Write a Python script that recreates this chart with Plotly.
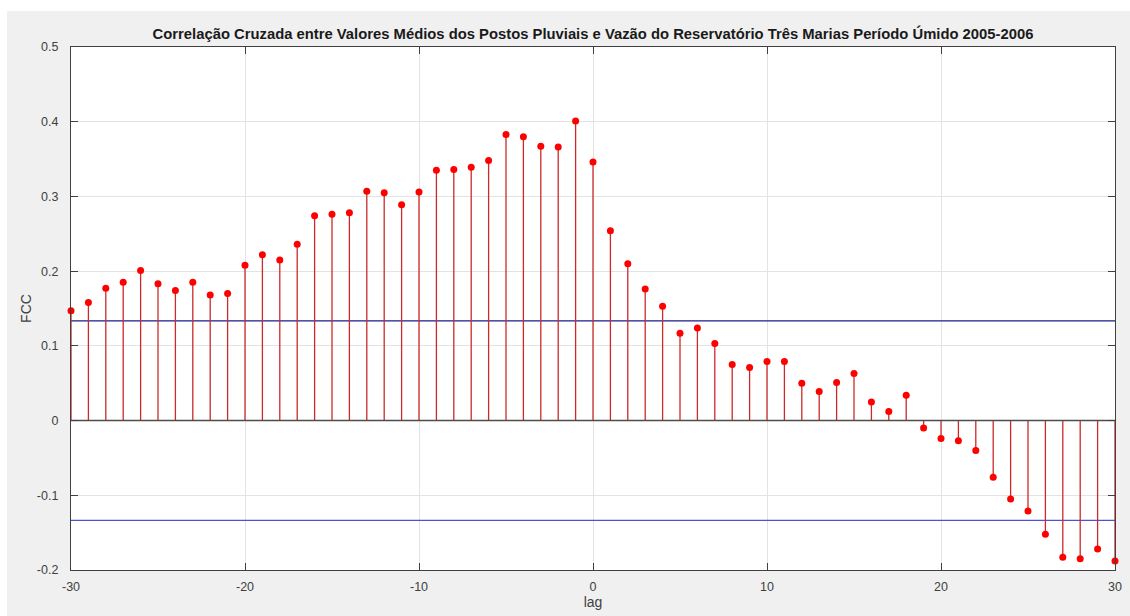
import plotly.graph_objects as go

lags = list(range(-30, 31))
fcc = [0.147, 0.158, 0.177, 0.185, 0.201, 0.183, 0.174, 0.185, 0.168, 0.170,
       0.208, 0.222, 0.215, 0.236, 0.274, 0.276, 0.278, 0.307, 0.305, 0.289,
       0.306, 0.335, 0.336, 0.339, 0.348, 0.383, 0.380, 0.367, 0.366, 0.401,
       0.346, 0.254, 0.210, 0.176, 0.153, 0.117, 0.124, 0.103, 0.075, 0.071,
       0.079, 0.079, 0.050, 0.039, 0.051, 0.063, 0.025, 0.012, 0.034, -0.010,
       -0.024, -0.027, -0.040, -0.076, -0.105, -0.121, -0.152, -0.183, -0.185, -0.172,
       -0.188]
conf_upper = 0.1335
conf_lower = -0.1335

x_tickvals = [-30, -20, -10, 0, 10, 20, 30]
x_ticktext = ["-30", "-20", "-10", "0", "10", "20", "30"]
y_tickvals = [-0.2, -0.1, 0, 0.1, 0.2, 0.3, 0.4, 0.5]
y_ticktext = ["-0.2", "-0.1", "0", "0.1", "0.2", "0.3", "0.4", "0.5"]

title_text = "Correlação Cruzada entre Valores Médios dos Postos Pluviais e Vazão do Reservatório Três Marias Período Úmido 2005-2006"

stem_x, stem_y = [], []
for lg, v in zip(lags, fcc):
    stem_x += [lg, lg, None]
    stem_y += [0, v, None]

fig = go.Figure()
fig.add_trace(go.Scatter(x=[-30, 30], y=[conf_upper, conf_upper], mode="lines",
                         line=dict(color="#1a1a8c", width=1.2), hoverinfo="skip"))
fig.add_trace(go.Scatter(x=[-30, 30], y=[conf_lower, conf_lower], mode="lines",
                         line=dict(color="#5050d4", width=1.2), hoverinfo="skip"))
fig.add_trace(go.Scatter(x=stem_x, y=stem_y, mode="lines",
                         line=dict(color="#cc2a2a", width=1.3), hoverinfo="skip"))
fig.add_trace(go.Scatter(x=[-30, 30], y=[0, 0], mode="lines",
                         line=dict(color="#4d4d4d", width=1.6), hoverinfo="skip"))
fig.add_trace(go.Scatter(x=lags, y=fcc, mode="markers",
                         marker=dict(color="#ff0000", size=7, symbol="circle",
                                     line=dict(width=0)),
                         cliponaxis=False))

W, H = 1130, 616
L, R, T, B = 71, 1115, 47, 570
pw, ph = R - L, B - T

shapes = [
    dict(type="rect", xref="paper", yref="paper", layer="below",
         x0=(0 - L) / pw - 0.01, x1=(W - L) / pw + 0.01, y0=1 + (T - 11) / ph, y1=1 + T / ph + 0.01,
         fillcolor="white", line=dict(width=0)),
    dict(type="rect", xref="paper", yref="paper", layer="below",
         x0=(0 - L) / pw - 0.01, x1=(7 - L) / pw, y0=-(H - B) / ph - 0.01, y1=1 + T / ph + 0.01,
         fillcolor="white", line=dict(width=0)),
]

FONT = "Liberation Sans, Arial, sans-serif"
axis_font = dict(family=FONT, size=12.5, color="#404040")

fig.update_layout(
    width=W, height=H,
    margin=dict(l=L, r=W - R, t=T, b=H - B, pad=0, autoexpand=False),
    paper_bgcolor="#f0f0f0",
    plot_bgcolor="white",
    showlegend=False,
    shapes=shapes,
    title=dict(text="<b>" + title_text + "</b>", x=(L + R) / 2 / W, xanchor="center",
               xref="container", y=1 - 34 / H, yref="container", yanchor="middle",
               font=dict(family=FONT, size=14.8, color="#1a1a1a")),
    xaxis=dict(range=[-30, 30], tickmode="array", tickvals=x_tickvals, ticktext=x_ticktext,
               automargin=False,
               showgrid=True, gridcolor="#e3e3e3", gridwidth=1, zeroline=False,
               showline=True, linecolor="#404040", linewidth=1.2, mirror="ticks",
               ticks="inside", ticklen=7, tickcolor="#404040",
               tickfont=axis_font, ticklabelstandoff=5,
               title=dict(text="lag", font=dict(family=FONT, size=14, color="#404040"), standoff=4)),
    yaxis=dict(range=[-0.2, 0.5], tickmode="array", tickvals=y_tickvals, ticktext=y_ticktext,
               automargin=False,
               showgrid=True, gridcolor="#e3e3e3", gridwidth=1, zeroline=False,
               showline=True, linecolor="#404040", linewidth=1.2, mirror="ticks",
               ticks="inside", ticklen=7, tickcolor="#404040",
               tickfont=axis_font, ticklabelstandoff=9,
               title=dict(text="FCC", font=dict(family=FONT, size=14, color="#404040"), standoff=1)),
)

fig.write_html("out.html")
